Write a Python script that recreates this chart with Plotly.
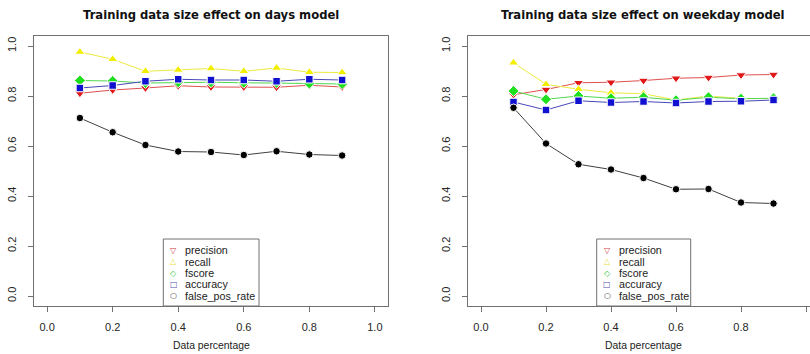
import plotly.graph_objects as go

# ---------------- data ----------------
data_pct = [0.1, 0.2, 0.3, 0.4, 0.5, 0.6, 0.7, 0.8, 0.9]

days_precision = [0.811, 0.824, 0.832, 0.841, 0.836, 0.836, 0.835, 0.843, 0.836]
days_recall = [0.976, 0.947, 0.899, 0.904, 0.910, 0.899, 0.912, 0.895, 0.894]
days_fscore = [0.862, 0.860, 0.852, 0.855, 0.855, 0.853, 0.853, 0.850, 0.848]
days_accuracy = [0.832, 0.842, 0.859, 0.867, 0.864, 0.864, 0.859, 0.867, 0.864]
days_fpr = [0.712, 0.655, 0.604, 0.578, 0.576, 0.564, 0.579, 0.566, 0.562]

weekday_precision = [0.805, 0.826, 0.853, 0.855, 0.862, 0.871, 0.874, 0.884, 0.886]
weekday_recall = [0.933, 0.847, 0.827, 0.813, 0.809, 0.784, 0.800, 0.790, 0.790]
weekday_fscore = [0.820, 0.787, 0.800, 0.791, 0.795, 0.783, 0.795, 0.789, 0.791]
weekday_accuracy = [0.776, 0.744, 0.781, 0.774, 0.778, 0.772, 0.778, 0.779, 0.784]
weekday_fpr = [0.753, 0.610, 0.527, 0.506, 0.472, 0.427, 0.428, 0.374, 0.370]

series_names = ["precision", "recall", "fscore", "accuracy", "false_pos_rate"]
tick_vals = [0.0, 0.2, 0.4, 0.6, 0.8, 1.0]
titles = ["Training data size effect on days model",
          "Training data size effect on weekday model"]
x_title = "Data percentage"

# ---------------- styles ----------------
W, H = 810, 354
colors = ["#e01818", "#f2ee00", "#1ee01e", "#1010d0", "#000000"]
line_colors = ["#e05050", "#eeea40", "#50d850", "#4848b8", "#404040"]
symbols = ["triangle-down", "triangle-up", "diamond", "square", "circle"]
sizes = [9, 9, 8.5, 7.5, 7.5]
legend_glyphs = ["\u25BD", "\u25B3", "\u25C7", "\u25A1", "\u25CB"]
legend_glyph_colors = ["#d04040", "#e8e040", "#40c840", "#5050b0", "#404040"]
axis_gray = "#707070"

panel_px = [(34, 388), (468, 810)]    # plot area x (pixels)
title_cx = [211, 643]
top_px, bot_px = 36, 306               # plot area y (pixels)
xranges = [[-0.04, 1.04], [-0.04, -0.04 + (810 - 468) / 325.0]]
legend_boxes = [(163.3, 259.0), (596.7, 690.7)]
legend_top = 239.0

panels = [
    [days_precision, days_recall, days_fscore, days_accuracy, days_fpr],
    [weekday_precision, weekday_recall, weekday_fscore, weekday_accuracy, weekday_fpr],
]

fig = go.Figure()

for p, series in enumerate(panels):
    xa = "x" if p == 0 else "x2"
    ya = "y" if p == 0 else "y2"
    for i, vals in enumerate(series):
        fig.add_trace(go.Scatter(
            x=data_pct, y=vals, mode="lines+markers", name=series_names[i],
            xaxis=xa, yaxis=ya, showlegend=False,
            line=dict(color=line_colors[i], width=1),
            marker=dict(symbol=symbols[i], size=sizes[i], color=colors[i],
                        line=dict(width=1, color="white")),
        ))

def px_x(v):
    return v / W

def px_y(v):
    return 1 - v / H

axis_common = dict(
    showgrid=False, zeroline=False, showline=True, linecolor=axis_gray, linewidth=1.3,
    ticks="outside", ticklen=5, tickwidth=1, tickcolor=axis_gray,
    tickfont=dict(family="Liberation Sans, Arial, sans-serif", size=11, color="#262626"),
    tickvals=tick_vals, tickformat=".1f", fixedrange=True,
)

layout = dict(
    width=W, height=H, autosize=False,
    margin=dict(l=0, r=0, t=0, b=0, pad=0),
    paper_bgcolor="white", plot_bgcolor="white",
    showlegend=False,
)
for p in range(2):
    sx = "" if p == 0 else "2"
    x0, x1 = panel_px[p]
    layout["xaxis" + sx] = dict(
        axis_common, domain=[px_x(x0), px_x(x1)], range=xranges[p],
        anchor="y" + sx, mirror=True, ticklabelstandoff=5,
    )
    layout["yaxis" + sx] = dict(
        axis_common, domain=[px_y(bot_px), px_y(top_px)], range=[-0.04, 1.04],
        anchor="x" + sx, mirror=(p == 0), tickangle=-90, ticklabelstandoff=7,
    )
fig.update_layout(**layout)

annotations = []
shapes = []
row_gap = 11.35
for p in range(2):
    cx = title_cx[p]
    annotations.append(dict(
        text="<b>" + titles[p] + "</b>", x=px_x(cx), y=px_y(14.5),
        xref="paper", yref="paper", showarrow=False, xanchor="center", yanchor="middle",
        font=dict(family="DejaVu Sans, sans-serif", size=11.6, color="#111111"),
    ))
    annotations.append(dict(
        text=x_title, x=px_x(cx), y=px_y(345.5),
        xref="paper", yref="paper", showarrow=False, xanchor="center", yanchor="middle",
        font=dict(family="Liberation Sans, Arial, sans-serif", size=10.4, color="#222222"),
    ))
    lx0, lx1 = legend_boxes[p]
    shapes.append(dict(
        type="rect", xref="paper", yref="paper",
        x0=px_x(lx0), x1=px_x(lx1), y0=px_y(bot_px), y1=px_y(legend_top),
        line=dict(color=axis_gray, width=1), fillcolor="white", layer="above",
    ))
    for i, name in enumerate(series_names):
        ry = legend_top + 11.3 + i * row_gap
        annotations.append(dict(
            text=legend_glyphs[i], x=px_x(lx0 + 10.4), y=px_y(ry),
            xref="paper", yref="paper", showarrow=False, xanchor="center", yanchor="middle",
            font=dict(family="DejaVu Sans, sans-serif", size=8, color=legend_glyph_colors[i]),
        ))
        annotations.append(dict(
            text=name, x=px_x(lx0 + 20), y=px_y(ry),
            xref="paper", yref="paper", showarrow=False, xanchor="left", yanchor="middle",
            font=dict(family="Liberation Sans, Arial, sans-serif", size=10.7, color="#222222"),
        ))

fig.update_layout(annotations=annotations, shapes=shapes)
fig.write_html("out.html",
               config={"displayModeBar": False, "staticPlot": True},
               post_script="document.body.style.margin='0';document.body.style.overflow='hidden';")
